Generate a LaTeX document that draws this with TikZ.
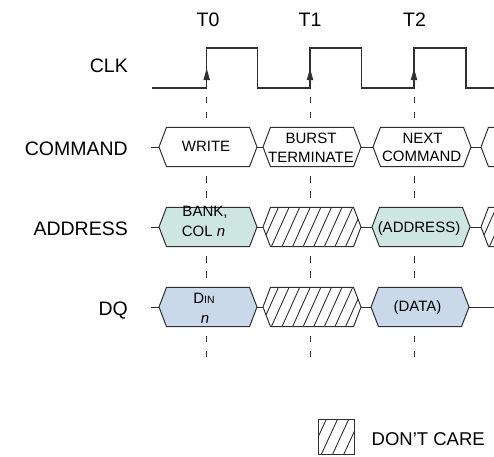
\documentclass[tikz,border=0pt]{standalone}
\usepackage{fontspec}
\setmainfont{Liberation Sans}
\definecolor{ink}{HTML}{303030}
\definecolor{addrfill}{HTML}{CEE6E2}
\definecolor{dqfill}{HTML}{CAD9E9}
\tikzset{
  box/.style={draw=ink, line width=1pt, line join=miter},
  hatch/.style={draw=ink, line width=0.9pt},
  guide/.style={draw=ink, line width=0.9pt},
  clk/.style={draw=ink, line width=1.3pt},
  lab/.style={font=\fontsize{19.5}{23}\selectfont, inner sep=0pt, text=black},
  btxt/.style={font=\fontsize{15}{18}\selectfont, inner sep=0pt, anchor=base, text=black},
  hexa/.pic={
    \path[pic actions] (-49,0) -- (-41.5,-19.7) -- (41.5,-19.7) -- (49,0) -- (41.5,19.7) -- (-41.5,19.7) -- cycle;
    \coordinate (-l) at (-49,0);
    \coordinate (-r) at (49,0);
  },
  hatchhexa/.pic={
    \path[fill=white] (-49,0) -- (-41.5,-19.7) -- (41.5,-19.7) -- (49,0) -- (41.5,19.7) -- (-41.5,19.7) -- cycle;
    \begin{scope}
      \clip (-49,0) -- (-41.5,-19.7) -- (41.5,-19.7) -- (49,0) -- (41.5,19.7) -- (-41.5,19.7) -- cycle;
      \foreach \k in {-6,...,6}{\draw[hatch] ({\k*10.6-9},20) -- ({\k*10.6+9},-20);}
    \end{scope}
    \path[box] (-49,0) -- (-41.5,-19.7) -- (41.5,-19.7) -- (49,0) -- (41.5,19.7) -- (-41.5,19.7) -- cycle;
    \coordinate (-l) at (-49,0);
    \coordinate (-r) at (49,0);
  }
}
\begin{document}
\begin{tikzpicture}[x=1pt,y=-1pt]
\useasboundingbox (0,0) rectangle (494,456);
\clip (0,0) rectangle (494,456);
\fill[white] (0,0) rectangle (494,456);

% clock edge coordinates
\coordinate (cstart) at (152,88);
\coordinate (e0) at (206.7,88);
\coordinate (f0) at (257.7,88);
\coordinate (e1) at (310,88);
\coordinate (f1) at (361.7,88);
\coordinate (e2) at (414,88);
\coordinate (f2) at (466,88);
\coordinate (cend) at (494,88);

\draw[clk] (cstart) -- (e0) -- ++(0,-40) -| (f0) -- (e1) -- ++(0,-40) -| (f1) -- (e2) -- ++(0,-40) -| (f2) -- (cend);

% arrowheads on rising edges
\foreach \e in {e0,e1,e2}{
  \fill[ink] (\e) ++(0,-19.5) -- ++(-3.3,11.5) -- ++(6.6,0) -- cycle;
}

% dashed guide lines
\foreach \x in {206.7,310,414}{
  \foreach \c in {107.5,187,267,346.5}{
    \draw[guide] (\x,\c-10.7) -- (\x,\c-4.3);
    \draw[guide] (\x,\c+4.3) -- (\x,\c+10.9);
  }
}

% time labels
\node[lab, anchor=base] (t0) at (208,26.7) {T0};
\node[lab, anchor=base] (t1) at (310,26.7) {T1};
\node[lab, anchor=base] (t2) at (414.5,26.7) {T2};

% row labels
\node[lab, anchor=base east] (lclk) at (128,72.5) {CLK};
\node[lab, anchor=base east] (lcmd) at (128,155.5) {COMMAND};
\node[lab, anchor=base east] (ladr) at (128,235.5) {ADDRESS};
\node[lab, anchor=base east] (ldq) at (128,315) {DQ};

% COMMAND row
\coordinate (cs) at (151,147);
\pic[box, fill=white] (c0) at (208,147) {hexa};
\pic[box, fill=white] (c1) at (312,147) {hexa};
\pic[box, fill=white] (c2) at (422,147) {hexa};
\pic[box, fill=white] (c3) at (530,147) {hexa};
\draw[box] (cs) -- (c0-l);
\draw[box] (c0-r) -- (c1-l);
\draw[box] (c1-r) -- (c2-l);
\draw[box] (c2-r) -- (c3-l);

% ADDRESS row
\coordinate (as) at (151,227);
\pic[box, fill=addrfill] (a0) at (208,227) {hexa};
\pic (a1) at (312,227) {hatchhexa};
\pic[box, fill=addrfill] (a2) at (421,227) {hexa};
\pic (a3) at (530,227) {hatchhexa};
\draw[box] (as) -- (a0-l);
\draw[box] (a0-r) -- (a1-l);
\draw[box] (a1-r) -- (a2-l);
\draw[box] (a2-r) -- (a3-l);

% DQ row
\coordinate (ds) at (151,307);
\coordinate (de) at (494,307);
\pic[box, fill=dqfill] (d0) at (208,307) {hexa};
\pic (d1) at (312,307) {hatchhexa};
\pic[box, fill=dqfill] (d2) at (420,307) {hexa};
\draw[box] (ds) -- (d0-l);
\draw[box] (d0-r) -- (d1-l);
\draw[box] (d1-r) -- (d2-l);
\draw[box] (d2-r) -- (de);

% box texts
\node[btxt] (w) at (206,151.7) {WRITE};
\node[btxt] (b1) at (311,143) {BURST};
\node[btxt] (b2) at (311,162) {TERMINATE};
\node[btxt] (n1) at (422.5,143) {NEXT};
\node[btxt] (n2) at (421.7,161.7) {COMMAND};
\node[btxt] (ba1) at (205,216.7) {BANK,};
\node[btxt] (ba2) at (203.5,236.7) {COL \textit{n}};
\node[btxt] (ad) at (419,232) {(ADDRESS)};
\node[btxt] (di1) at (204,303.5) {D{\fontsize{10.5}{12}\selectfont IN}};
\node[btxt] (di2) at (205,323) {\textit{n}};
\node[btxt] (da) at (417.5,311.5) {(DATA)};

% legend
\coordinate (lg1) at (318.3,419.3);
\coordinate (lg2) at (354.3,454);
\begin{scope}
  \clip (lg1) rectangle (lg2);
  \foreach \k in {-1,...,4}{\draw[hatch] ({318.3+\k*11.2-8},454) -- ({318.3+\k*11.2+8},419.3);}
\end{scope}
\draw[box] (lg1) rectangle (lg2);
\node[lab, font=\fontsize{18.5}{22}\selectfont, anchor=base west] (dc) at (371.5,445) {DON’T CARE};
\end{tikzpicture}
\end{document}
